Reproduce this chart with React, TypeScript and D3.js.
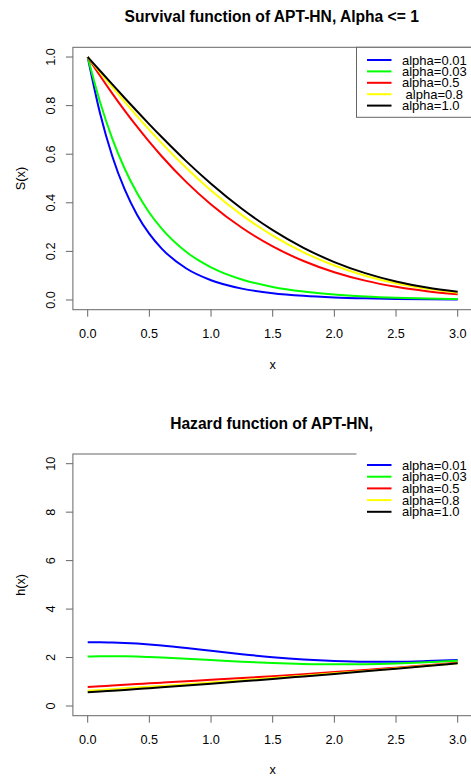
import React from "react";
import * as d3 from "d3";

const xs = [0, 0.1, 0.2, 0.3, 0.4, 0.5, 0.6, 0.8, 1.0, 1.25, 1.5, 1.75, 2.0, 2.25, 2.5, 2.75, 3.0];

const seriesNames = ["alpha=0.01", "alpha=0.03", "alpha=0.5", "alpha=0.8", "alpha=1.0"];
const topLegendLabels = ["alpha=0.01", "alpha=0.03", "alpha=0.5", " alpha=0.8", "alpha=1.0"];
const seriesColors = ["#0000ff", "#00ff00", "#ff0000", "#ffff00", "#000000"];

// Survival S(x)
const survA001 = [1, 0.7684, 0.5908, 0.4548, 0.3511, 0.2718, 0.2114, 0.1296, 0.0813, 0.0468, 0.0278, 0.0170, 0.0106, 0.0067, 0.0042, 0.0027, 0.0017];
const survA003 = [1, 0.8146, 0.6632, 0.5401, 0.4403, 0.3592, 0.2937, 0.1976, 0.1345, 0.0844, 0.0538, 0.0347, 0.0225, 0.0147, 0.0095, 0.0061, 0.0038];
const survA05 = [1, 0.9231, 0.8496, 0.7795, 0.7132, 0.6505, 0.5916, 0.4850, 0.3930, 0.2971, 0.2205, 0.1604, 0.1143, 0.0797, 0.0543, 0.0361, 0.0234];
const survA08 = [1, 0.9373, 0.8757, 0.8155, 0.7570, 0.7002, 0.6456, 0.5430, 0.4505, 0.3494, 0.2649, 0.1962, 0.1418, 0.1000, 0.0686, 0.0459, 0.0299];
const survA1 = [1, 0.9435, 0.8872, 0.8315, 0.7767, 0.7229, 0.6705, 0.5704, 0.4782, 0.3753, 0.2874, 0.2146, 0.1561, 0.1106, 0.0762, 0.0511, 0.0334];

// Hazard h(x)
const hazA001 = [2.6323, 2.6336, 2.6240, 2.6042, 2.5752, 2.5381, 2.4941, 2.3914, 2.2784, 2.1390, 2.0168, 1.9217, 1.8586, 1.8278, 1.8290, 1.8559, 1.9025];
const hazA003 = [2.0456, 2.0544, 2.0560, 2.0510, 2.0399, 2.0238, 2.0034, 1.9536, 1.8979, 1.8304, 1.7747, 1.7373, 1.7213, 1.7280, 1.7573, 1.8057, 1.8673];
const hazA05 = [0.7845, 0.8151, 0.8454, 0.8754, 0.9050, 0.9346, 0.9639, 1.0225, 1.0811, 1.1559, 1.2330, 1.3135, 1.3984, 1.4875, 1.5825, 1.6814, 1.7804];
const hazA08 = [0.6314, 0.6635, 0.6960, 0.7290, 0.7622, 0.7960, 0.8300, 0.8995, 0.9701, 1.0611, 1.1543, 1.2500, 1.3487, 1.4498, 1.5548, 1.6619, 1.7674];
const hazA1 = [0.5659, 0.5983, 0.6314, 0.6653, 0.6998, 0.7351, 0.7709, 0.8446, 0.9202, 1.0179, 1.1181, 1.2207, 1.3256, 1.4323, 1.5421, 1.6531, 1.7618];

const xTicks = [0, 0.5, 1.0, 1.5, 2.0, 2.5, 3.0];
const survTicks = [0, 0.2, 0.4, 0.6, 0.8, 1.0];
const hazTicks = [0, 2, 4, 6, 8, 10];

const survSeries = [survA001, survA003, survA05, survA08, survA1];
const hazSeries = [hazA001, hazA003, hazA05, hazA08, hazA1];

const FONT = "'Liberation Sans', Arial, sans-serif";
const AXIS_COL = "#666";
const TICK_FS = 12.7;

type PanelProps = {
  top: number;
  bottom: number;
  yDomain: [number, number];
  yTicks: number[];
  yFmt: (v: number) => string;
  series: number[][];
  title: string;
  titleY: number;
  yLabel: string;
  tickLabelY: number;
  xLabelY: number;
  legendLabels: string[];
  legendTop: number;
  legendRow0: number;
  legendStep: number;
  legendBoxed: boolean;
};

function Panel(p: PanelProps) {
  const left = 72.9;
  const right = 472.5;
  const x = d3.scaleLinear().domain([-0.12, 3.12]).range([left, right]);
  const [y0, y1] = p.yDomain;
  const pad = (y1 - y0) * 0.04;
  const y = d3.scaleLinear().domain([y0 - pad, y1 + pad]).range([p.bottom, p.top]);
  const line = d3
    .line<number>()
    .x((_, i) => x(xs[i]))
    .y((d) => y(d))
    .curve(d3.curveMonotoneX);
  const cx = (left + right) / 2;
  const cy = (p.top + p.bottom) / 2;
  const legX = 356.5;
  const legH = 70;
  return (
    <g>
      <text x={cx - 1} y={p.titleY} textAnchor="middle" fontFamily={FONT} fontWeight="bold" fontSize={15.6} fill="#000">
        {p.title}
      </text>
      <rect x={left} y={p.top} width={right - left} height={p.bottom - p.top} fill="none" stroke={AXIS_COL} strokeWidth={1} />
      {xTicks.map((t) => (
        <g key={"xt" + t}>
          <line x1={x(t)} x2={x(t)} y1={p.bottom} y2={p.bottom + 7} stroke={AXIS_COL} strokeWidth={1} />
          <text x={x(t)} y={p.tickLabelY} textAnchor="middle" fontFamily={FONT} fontSize={TICK_FS} fill="#000">
            {d3.format(".1f")(t)}
          </text>
        </g>
      ))}
      {p.yTicks.map((t) => (
        <g key={"yt" + t}>
          <line x1={left - 7} x2={left} y1={y(t)} y2={y(t)} stroke={AXIS_COL} strokeWidth={1} />
          <text
            transform={`translate(55,${y(t)}) rotate(-90)`}
            textAnchor="middle"
            fontFamily={FONT}
            fontSize={TICK_FS}
            fill="#000"
          >
            {p.yFmt(t)}
          </text>
        </g>
      ))}
      <text x={cx} y={p.xLabelY} textAnchor="middle" fontFamily={FONT} fontSize={TICK_FS} fill="#000">
        x
      </text>
      <text transform={`translate(25,${cy}) rotate(-90)`} textAnchor="middle" fontFamily={FONT} fontSize={TICK_FS} fill="#000">
        {p.yLabel}
      </text>
      {p.series.map((s, i) => (
        <path key={seriesNames[i]} d={line(s) || ""} fill="none" stroke={seriesColors[i]} strokeWidth={2} />
      ))}
      <rect
        x={legX}
        y={p.legendTop}
        width={130}
        height={legH}
        fill="#fff"
        stroke={p.legendBoxed ? AXIS_COL : "none"}
        strokeWidth={1}
      />
      {p.legendLabels.map((lab, i) => {
        const ly = p.legendRow0 + i * p.legendStep;
        return (
          <g key={"lg" + i}>
            <line x1={367} x2={391.5} y1={ly} y2={ly} stroke={seriesColors[i]} strokeWidth={2} />
            <text
              x={402}
              y={ly + 4.6}
              fontFamily={FONT}
              fontSize={13}
              fill="#000"
              style={{ whiteSpace: "pre" }}
            >
              {lab}
            </text>
          </g>
        );
      })}
    </g>
  );
}

export default function App() {
  return (
    <svg
      width={471}
      height={778}
      viewBox="0 0 471 778"
      style={{ position: "absolute", left: 0, top: 0, background: "#fff" }}
    >
      <rect x={0} y={0} width={471} height={778} fill="#fff" />
      <Panel
        top={47.3}
        bottom={309.7}
        yDomain={[0, 1]}
        yTicks={survTicks}
        yFmt={(v) => d3.format(".1f")(v)}
        series={survSeries}
        title="Survival function of APT-HN, Alpha <= 1"
        titleY={21.8}
        yLabel="S(x)"
        tickLabelY={337.7}
        xLabelY={369}
        legendLabels={topLegendLabels}
        legendTop={47.3}
        legendRow0={60}
        legendStep={11.4}
        legendBoxed={true}
      />
      <Panel
        top={454}
        bottom={715.7}
        yDomain={[0, 10]}
        yTicks={hazTicks}
        yFmt={(v) => String(v)}
        series={hazSeries}
        title="Hazard function of APT-HN,"
        titleY={429.3}
        yLabel="h(x)"
        tickLabelY={744.3}
        xLabelY={774.3}
        legendLabels={seriesNames}
        legendTop={452.3}
        legendRow0={465}
        legendStep={11.7}
        legendBoxed={false}
      />
    </svg>
  );
}
